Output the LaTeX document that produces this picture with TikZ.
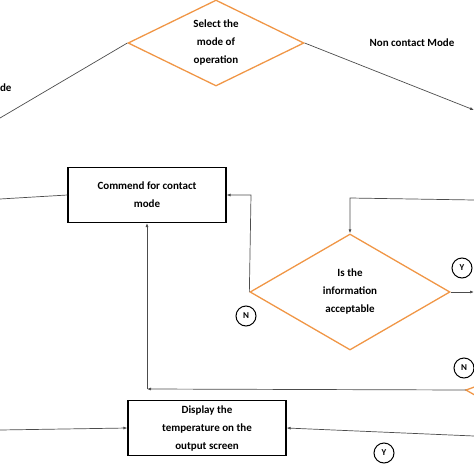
\documentclass[tikz,border=0pt]{standalone}
\usepackage{fontspec}
\setmainfont{Carlito}
\usetikzlibrary{shapes.geometric,arrows.meta}
\definecolor{dorange}{RGB}{240,150,70}
\begin{document}
\begin{tikzpicture}[x=1pt,y=-1pt,
  every node/.style={font=\bfseries\fontsize{11}{18}\selectfont},
  dia/.style={draw=dorange,line width=1.3pt,diamond,aspect=1.9,inner sep=0pt,align=center},
  box/.style={draw,line width=1.2pt,align=center,minimum width=158pt,minimum height=55pt,inner sep=2pt},
  lab/.style={draw,circle,line width=1pt,inner sep=1pt,minimum size=20pt,font=\bfseries\fontsize{9}{9}\selectfont},
  ln/.style={draw=black!70,line width=0.7pt},
  arr/.style={ln,-{Latex[length=4pt,width=3pt]}}]
\useasboundingbox (0,0) rectangle (474,474);
\begin{scope}
\clip (0,0) rectangle (474,474);
\node[dia,minimum width=176pt,minimum height=86pt] (d1) at (216,43) {Select the\\mode of\\operation};
\node[dia,minimum width=200pt,minimum height=116pt] (d2) at (350,292) {Is the\\information\\acceptable};
\coordinate (d3l) at (466,390);
\draw[draw=dorange,line width=1.3pt] (480,385) -- (d3l) -- (480,398);
\node[box] (b1) at (147,195) {Commend for contact\\mode};
\node[box] (b2) at (207,428) {Display the\\temperature on the\\output screen};
\node (t1) at (412,43) {Non contact Mode};
\node[anchor=east] (t2) at (15,88) {de};
\node[lab] (y1) at (462,268) {Y};
\node[lab] (n1) at (246,316) {N};
\node[lab] (n2) at (464,368) {N};
\node[lab] (y2) at (384,453) {Y};
\coordinate (l1) at (0,118);
\coordinate (r1) at (474,110);
\coordinate (l2) at (0,199);
\coordinate (c1) at (251,195);
\coordinate (c2) at (147,389);
\coordinate (c3) at (350,198);
\coordinate (r3) at (474,200);
\coordinate (r4) at (474,292);
\coordinate (l5) at (0,430);
\coordinate (r5) at (474,436);
\draw[ln] (d1.west) -- (l1);
\draw[arr] (d1.east) -- (r1);
\draw[ln] (l2) -- (b1.west);
\draw[arr] (d2.west) -- (c1) -- (b1.east);
\draw[arr] (d3l) -- (c2);
\draw[arr] (c2) -- (b1.south);
\draw[arr] (r3) -- (c3) -- (d2.north);
\draw[arr] (d2.east) -- (r4);
\draw[arr] (l5) -- (b2.west);
\draw[arr] (r5) -- (b2.east);
\end{scope}
\end{tikzpicture}
\end{document}
